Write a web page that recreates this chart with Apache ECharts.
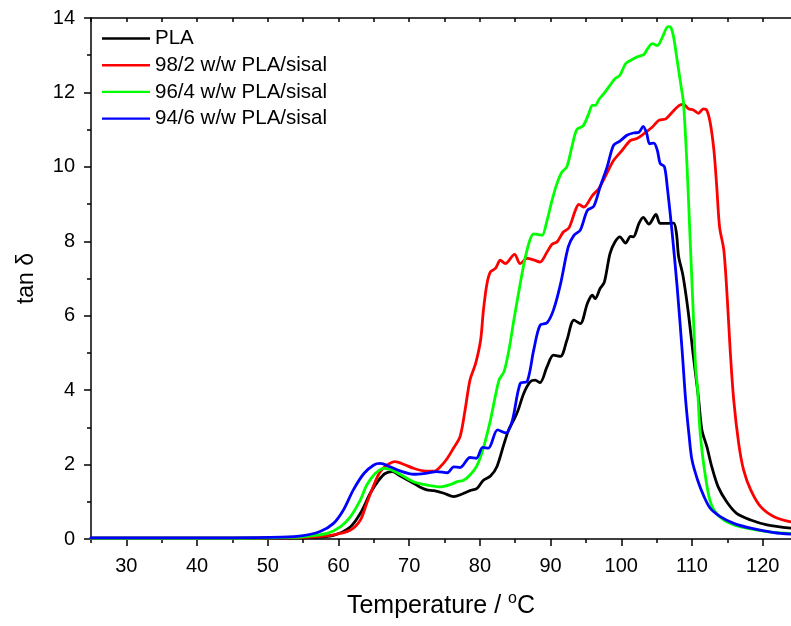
<!DOCTYPE html>
<html>
<head>
<meta charset="utf-8">
<script src="https://cdn.jsdelivr.net/npm/echarts@6/dist/echarts.min.js"></script>
<style>
html,body{margin:0;padding:0;background:#fff;}
#chart{width:791px;height:626px;}
</style>
</head>
<body>
<div id="chart"></div>
<script>
// ---- data ----
const seriesNames = ['PLA', '98/2 w/w PLA/sisal', '96/4 w/w PLA/sisal', '94/6 w/w PLA/sisal'];
const seriesColors = ['#000000', '#ff0000', '#00ff00', '#0000ff'];

const plaT = [25, 45, 52, 56, 59.3, 61.7, 63.1, 64.5, 65.7, 66.6, 67.6, 68.7, 70.6, 71.5, 72.5, 73.5, 74.9, 76.3, 77.5, 78.6, 79.6, 80.5, 81.5, 82.4, 83.4, 84.1, 84.8, 85.4, 86.2, 87.1, 87.8, 88.5, 89.5, 90.4, 91.4, 92.3, 93.3, 94.2, 95.2, 95.9, 96.3, 97.0, 97.6, 98.4, 99.1, 99.8, 100.6, 101.3, 101.7, 102.5, 103.1, 103.9, 104.9, 105.5, 106.5, 107.4, 107.8, 108.1, 108.7, 109.4, 110.2, 110.9, 111.4, 112.1, 112.8, 113.7, 114.9, 116.3, 118.3, 120.6, 124];
const plaV = [0.02, 0.02, 0.03, 0.04, 0.1, 0.33, 0.69, 1.23, 1.58, 1.76, 1.81, 1.7, 1.5, 1.4, 1.32, 1.3, 1.23, 1.14, 1.21, 1.3, 1.36, 1.58, 1.69, 1.94, 2.55, 2.95, 3.2, 3.46, 3.91, 4.22, 4.27, 4.2, 4.63, 4.94, 4.91, 5.34, 5.88, 5.79, 6.33, 6.55, 6.46, 6.73, 6.9, 7.67, 7.98, 8.12, 7.95, 8.13, 8.12, 8.48, 8.64, 8.46, 8.72, 8.48, 8.48, 8.49, 8.21, 7.6, 7.1, 6.2, 4.9, 3.82, 2.93, 2.48, 1.94, 1.4, 1.0, 0.69, 0.51, 0.38, 0.29];

const s98T = [25, 45, 52, 56, 59.3, 61.7, 63.1, 64.0, 65.0, 65.9, 66.9, 68.0, 69.2, 70.6, 72.0, 73.5, 74.4, 75.4, 76.3, 77.2, 77.9, 78.6, 79.4, 80.1, 80.5, 81.0, 81.5, 82.2, 82.9, 83.6, 84.9, 85.7, 86.7, 87.6, 88.5, 89.5, 90.2, 90.9, 91.8, 92.6, 93.5, 94.0, 94.7, 95.9, 96.8, 97.7, 98.9, 100.1, 101.3, 102.2, 103.2, 104.4, 105.3, 106.3, 107.2, 108.2, 108.8, 109.5, 110.2, 110.9, 111.6, 112.1, 112.6, 113.1, 113.5, 113.9, 114.5, 115.0, 115.4, 115.9, 116.6, 117.3, 118.3, 119.7, 121.6, 124];
const s98V = [0.02, 0.02, 0.03, 0.05, 0.11, 0.24, 0.51, 0.96, 1.45, 1.81, 1.99, 2.08, 2.01, 1.9, 1.83, 1.82, 1.94, 2.17, 2.45, 2.75, 3.46, 4.27, 4.72, 5.34, 6.15, 6.86, 7.18, 7.27, 7.49, 7.4, 7.65, 7.4, 7.54, 7.5, 7.44, 7.71, 7.92, 7.98, 8.25, 8.36, 8.83, 8.99, 8.92, 9.23, 9.41, 9.73, 10.17, 10.44, 10.71, 10.76, 10.89, 11.07, 11.25, 11.29, 11.47, 11.65, 11.68, 11.56, 11.53, 11.44, 11.56, 11.52, 11.16, 10.44, 9.46, 8.38, 7.76, 6.42, 5.07, 3.73, 2.57, 1.85, 1.32, 0.87, 0.6, 0.46];

const s96T = [25, 45, 52, 55, 58.4, 60.3, 61.7, 63.1, 64.0, 65.2, 66.4, 67.3, 68.7, 70.6, 72.5, 74.4, 75.8, 76.8, 77.7, 78.6, 79.6, 80.5, 81.5, 82.7, 83.4, 84.1, 84.8, 85.7, 86.4, 87.1, 87.6, 88.3, 88.8, 89.5, 90.2, 90.9, 91.6, 92.3, 93.0, 93.7, 94.6, 95.4, 95.9, 96.3, 96.9, 97.5, 98.4, 99.1, 99.8, 100.6, 101.3, 102.2, 103.2, 103.7, 104.4, 105.1, 105.8, 106.6, 107.0, 107.4, 107.9, 108.4, 108.8, 109.3, 109.7, 110.1, 110.5, 110.8, 111.0, 111.2, 111.7, 112.4, 113.1, 114.5, 116.8, 120.6, 124];
const s96V = [0.02, 0.02, 0.04, 0.06, 0.15, 0.33, 0.6, 1.05, 1.45, 1.76, 1.9, 1.87, 1.74, 1.54, 1.45, 1.4, 1.46, 1.54, 1.58, 1.72, 1.98, 2.45, 3.2, 4.27, 4.49, 5.07, 5.88, 6.86, 7.55, 8.05, 8.2, 8.18, 8.16, 8.56, 9.1, 9.55, 9.86, 10.0, 10.53, 11.0, 11.1, 11.43, 11.65, 11.65, 11.83, 11.96, 12.19, 12.37, 12.46, 12.77, 12.86, 12.95, 13.02, 13.17, 13.31, 13.26, 13.48, 13.77, 13.75, 13.48, 12.86, 12.23, 11.7, 10.0, 8.21, 6.42, 4.63, 4.0, 3.28, 2.75, 1.94, 1.14, 0.78, 0.51, 0.33, 0.2, 0.15];

const s94T = [25, 45, 52, 55, 57.4, 59.3, 60.7, 62.1, 63.6, 65.0, 65.9, 67.3, 68.7, 70.6, 72.5, 73.9, 75.4, 76.3, 77.2, 78.6, 79.5, 80.4, 81.2, 82.5, 83.7, 84.6, 85.7, 86.7, 87.6, 88.5, 89.5, 90.4, 91.4, 92.5, 93.3, 94.2, 95.2, 96.1, 97.0, 98.0, 98.9, 99.8, 100.8, 101.7, 102.5, 103.1, 103.6, 104.0, 104.6, 105.1, 105.5, 106.1, 106.5, 107.2, 107.9, 108.6, 109.1, 109.6, 110.0, 110.8, 111.7, 112.6, 114.0, 115.9, 118.3, 121.6, 124];
const s94V = [0.03, 0.03, 0.05, 0.09, 0.2, 0.42, 0.78, 1.32, 1.76, 1.99, 2.03, 1.94, 1.83, 1.74, 1.77, 1.81, 1.78, 1.94, 1.92, 2.19, 2.17, 2.46, 2.44, 2.93, 2.85, 3.19, 4.18, 4.24, 5.07, 5.74, 5.81, 6.15, 6.85, 7.85, 8.16, 8.3, 8.83, 8.94, 9.46, 10.0, 10.58, 10.69, 10.85, 10.91, 10.93, 11.09, 10.89, 10.62, 10.64, 10.44, 10.09, 10.0, 9.46, 8.21, 6.77, 5.07, 3.73, 2.75, 2.12, 1.58, 1.14, 0.82, 0.6, 0.42, 0.29, 0.17, 0.13];

const xMajorTicks = [30, 40, 50, 60, 70, 80, 90, 100, 110, 120];
const xMinorTicks = [25, 35, 45, 55, 65, 75, 85, 95, 105, 115];
const xTopTicks = [25, 30, 35, 40, 45, 50, 55, 60, 65, 70, 75, 80, 85, 90, 95, 100, 105, 110, 115, 120];

// ---- chart ----
const pairs = (t, v) => t.map((x, i) => [x, v[i]]);
const allData = [pairs(plaT, plaV), pairs(s98T, s98V), pairs(s96T, s96V), pairs(s94T, s94V)];

const font = 'Liberation Sans, Arial, sans-serif';
const axisLineStyle = { color: '#000', width: 1.5 };

const chart = echarts.init(document.getElementById('chart'), null, { renderer: 'canvas' });
chart.setOption({
  animation: false,
  backgroundColor: '#fff',
  textStyle: { fontFamily: font },
  grid: { left: 91, right: 0, top: 18, bottom: 87, containLabel: false },
  legend: {
    data: seriesNames,
    orient: 'vertical',
    left: 97,
    top: 23,
    itemWidth: 48,
    itemHeight: 20,
    itemGap: 5.7,
    textStyle: { fontSize: 20.5, color: '#000', fontFamily: font },
    icon: 'path://M0,9 L48,9 L48,11.4 L0,11.4 Z'
  },
  xAxis: [
    {
      type: 'value', min: 25, max: 124, position: 'bottom',
      axisLine: { show: true, onZero: false, lineStyle: axisLineStyle },
      axisTick: { show: true, customValues: xMajorTicks, length: 7, inside: false, lineStyle: axisLineStyle },
      axisLabel: { customValues: xMajorTicks, fontSize: 20, color: '#000', margin: 17, fontFamily: font },
      splitLine: { show: false },
      name: 'Temperature / {sup|o}C',
      nameLocation: 'middle',
      nameGap: 52,
      nameTextStyle: {
        fontSize: 25, color: '#000', fontFamily: font,
        rich: { sup: { fontSize: 16, padding: [0, 0, 15, 0], fontFamily: font, color: '#000' } }
      }
    },
    {
      type: 'value', min: 25, max: 124, position: 'bottom',
      axisLine: { show: false, onZero: false },
      axisTick: { show: true, customValues: xMinorTicks, length: 4, inside: false, lineStyle: axisLineStyle },
      axisLabel: { show: false },
      splitLine: { show: false }
    },
    {
      type: 'value', min: 25, max: 124, position: 'top',
      axisLine: { show: true, onZero: false, lineStyle: axisLineStyle },
      axisTick: { show: true, customValues: xTopTicks, length: 4, inside: true, lineStyle: axisLineStyle },
      axisLabel: { show: false },
      splitLine: { show: false }
    }
  ],
  yAxis: {
    type: 'value', min: 0, max: 14, interval: 2,
    axisLine: { show: true, onZero: false, lineStyle: axisLineStyle },
    axisTick: { show: true, length: 7, inside: false, lineStyle: axisLineStyle },
    minorTick: { show: true, splitNumber: 2, length: 4, lineStyle: axisLineStyle },
    axisLabel: { fontSize: 20, color: '#000', margin: 16, fontFamily: font },
    splitLine: { show: false },
    minorSplitLine: { show: false },
    name: 'tan δ',
    nameLocation: 'middle',
    nameRotate: 90,
    nameGap: 53,
    nameTextStyle: { fontSize: 23, color: '#000', fontFamily: font }
  },
  series: seriesNames.map((name, i) => ({
    name: name,
    type: 'line',
    xAxisIndex: 0,
    data: allData[i],
    symbol: 'none',
    smooth: 0.3,
    color: seriesColors[i],
    lineStyle: { color: seriesColors[i], width: 2.8, cap: 'round', join: 'round' },
    z: 2 + i
  }))
});
</script>
</body>
</html>
